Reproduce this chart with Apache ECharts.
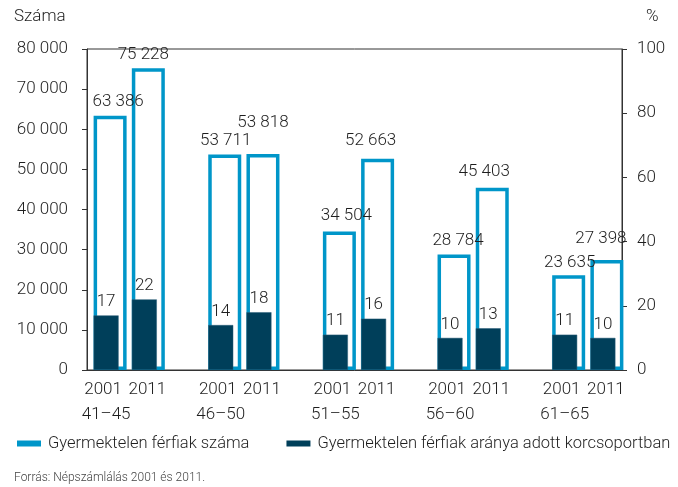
<!DOCTYPE html>
<html>
<head>
<meta charset="utf-8">
<script src="https://cdn.jsdelivr.net/npm/echarts@6/dist/echarts.min.js"></script>
<style>html,body{margin:0;padding:0;background:#fff}#c{width:678px;height:487px}</style>
</head>
<body>
<div id="c"></div>
<script>
var groups = ['41–45', '46–50', '51–55', '56–60', '61–65'];
var years = ['2001', '2011'];
var counts = [63386, 75228, 53711, 53818, 34504, 52663, 28784, 45403, 23635, 27398];
var shares = [17, 22, 14, 18, 11, 16, 10, 13, 11, 10];
var seriesNames = ['Gyermektelen férfiak száma', 'Gyermektelen férfiak aránya adott korcsoportban'];
var leftTicks = [0, 10000, 20000, 30000, 40000, 50000, 60000, 70000, 80000];
var rightTicks = [0, 20, 40, 60, 80, 100];
var leftAxisName = 'Száma';
var rightAxisName = '%';
var sourceText = 'Forrás: Népszámlálás 2001 és 2011.';

// label nudges (layout only) for the count labels, to mimic reference placement
var countLabelOffsets = [[8,0],[-5,0],[1,0],[0,-18],[7,-2],[-7,-4],[4,0],[-8,-3],[1,1],[-6,-8]];

var BLUE = '#0096c9', DARK = '#003f5a', TXT = '#1e1e1e';
var FONT = 'Roboto';
var FW = 300;

function fmt(v) { return String(v).replace(/\B(?=(\d{3})+(?!\d))/g, ' '); }

var cats = [], countData = [], shareData = [];
groups.forEach(function (g, gi) {
  years.forEach(function (y, yi) {
    var idx = gi * 2 + yi;
    cats.push(yi === 0 ? '{a|' + y + '}\n{g|' + g + '}' : '{b|' + y + '}');
    countData.push({ value: counts[idx], label: { offset: countLabelOffsets[idx] } });
    shareData.push(shares[idx]);
  });
  if (gi < groups.length - 1) {
    cats.push('');
    countData.push('-');
    shareData.push('-');
  }
});

var lblRich = {
  a: { fontSize: 17, fontWeight: FW, fontFamily: FONT, color: TXT, lineHeight: 25, padding: [0, 6, 0, 0] },
  b: { fontSize: 17, fontWeight: FW, fontFamily: FONT, color: TXT, lineHeight: 25, padding: [0, 0, 0, 6] },
  g: { fontSize: 17, fontWeight: FW, fontFamily: FONT, color: TXT, lineHeight: 25 }
};

var chart = echarts.init(document.getElementById('c'), null, { renderer: 'canvas' });
chart.setOption({
  animation: false,
  backgroundColor: '#fff',
  textStyle: { fontFamily: FONT, color: TXT, fontWeight: FW },
  grid: { left: 87, right: 56, top: 49, bottom: 117, show: true, borderColor: '#333', borderWidth: 1, backgroundColor: 'transparent' },
  legend: {
    left: 17, top: 435, width: 660, padding: 0,
    itemWidth: 24, itemHeight: 6, itemGap: 37,
    icon: 'rect',
    textStyle: { fontFamily: FONT, fontSize: 16.5, fontWeight: FW, color: TXT, padding: [0, 0, 0, 2] },
    data: [
      { name: seriesNames[0], itemStyle: { color: BLUE, borderWidth: 0 } },
      { name: seriesNames[1], itemStyle: { color: DARK, borderWidth: 0 } }
    ]
  },
  xAxis: {
    type: 'category', data: cats,
    axisLine: { lineStyle: { color: '#333', width: 1 } },
    axisTick: { show: false },
    axisLabel: { interval: 0, margin: 7, fontSize: 17, lineHeight: 25, color: TXT, fontFamily: FONT, rich: lblRich }
  },
  yAxis: [
    {
      type: 'value', min: 0, max: 80000, interval: 10000,
      axisLine: { show: true, lineStyle: { color: '#333' } },
      axisTick: { show: true, length: 5, lineStyle: { color: '#333' } },
      splitLine: { show: false },
      axisLabel: { margin: 19, fontSize: 17, fontWeight: FW, color: TXT, fontFamily: FONT, formatter: function (v) { return fmt(v); } }
    },
    {
      type: 'value', min: 0, max: 100, interval: 20,
      axisLine: { show: true, lineStyle: { color: '#333' } },
      axisTick: { show: true, length: 5, lineStyle: { color: '#333' } },
      splitLine: { show: false },
      axisLabel: { margin: 15, fontSize: 17, fontWeight: FW, color: TXT, fontFamily: FONT }
    }
  ],
  series: [
    {
      name: seriesNames[0], type: 'bar', yAxisIndex: 0, data: countData,
      barWidth: 33, barGap: '-100%',
      itemStyle: { color: '#fff', borderColor: BLUE, borderWidth: 3.5 },
      label: { show: true, position: 'top', distance: 5, fontSize: 17, fontWeight: FW, color: TXT, fontFamily: FONT, formatter: function (p) { return fmt(p.value); } },
      z: 2
    },
    {
      name: seriesNames[1], type: 'bar', yAxisIndex: 1, data: shareData,
      barWidth: 25, barGap: '-100%',
      itemStyle: { color: DARK, borderColor: '#2a5f78', borderWidth: 0.5 },
      label: { show: true, position: 'top', distance: 5, fontSize: 17, fontWeight: FW, color: TXT, fontFamily: FONT },
      z: 3
    }
  ],
  graphic: [
    { type: 'text', left: 14, top: 8, style: { text: leftAxisName, fontSize: 17, fontWeight: FW, fontFamily: FONT, fill: TXT } },
    { type: 'text', left: 646, top: 8, style: { text: rightAxisName, fontSize: 17, fontWeight: FW, fontFamily: FONT, fill: TXT } },
    { type: 'text', left: 14, top: 472, style: { text: sourceText, fontSize: 12, fontWeight: FW, fontFamily: FONT, fill: '#444' } }
  ]
});
</script>
</body>
</html>
